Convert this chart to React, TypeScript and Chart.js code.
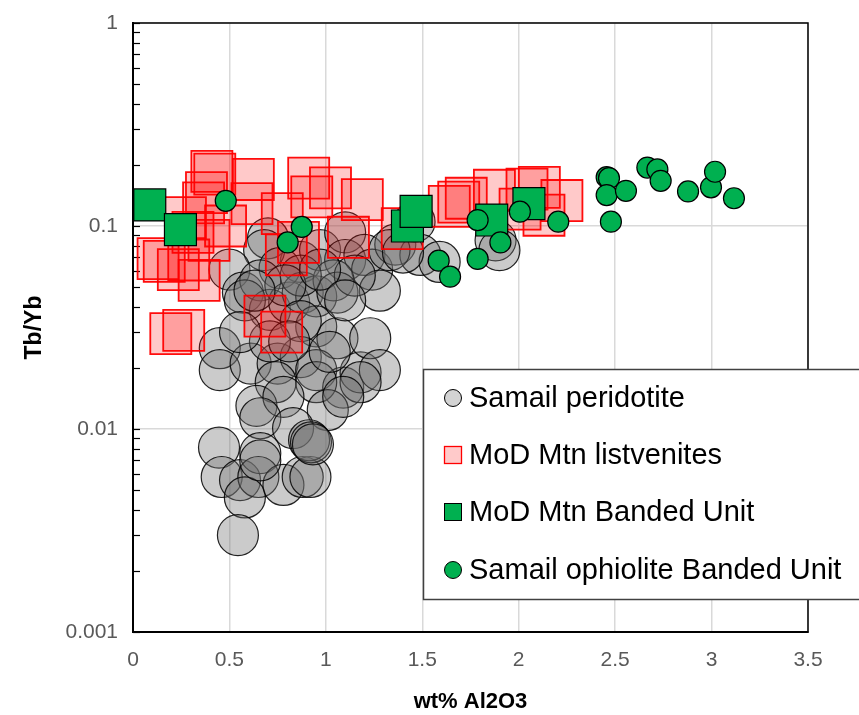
import React, { useEffect, useRef } from 'react';
import { Chart, registerables } from 'chart.js';

Chart.register(...registerables);

const FONT = '"Liberation Sans", Arial, Helvetica, sans-serif';

// ---- Data (wt% Al2O3 vs Tb/Yb) ----
const seriesNames = [
  'Samail peridotite',
  'MoD Mtn listvenites',
  'MoD Mtn Banded Unit',
  'Samail ophiolite Banded Unit',
];

const peridotiteX = [
  0.70, 0.87, 0.97, 1.10, 1.10, 1.20, 1.24, 1.36, 1.46, 1.49, 1.59, 1.88, 1.90, 0.68, 0.76, 1.33, 1.40,
  0.50, 0.57, 0.66, 0.71, 0.81, 0.88, 0.95, 1.04, 1.06, 0.95, 1.06, 1.28, 1.15, 0.87, 0.58, 0.79, 0.63, 0.97, 1.10, 0.87,
  0.45, 0.45, 0.61, 0.75, 0.87, 0.95, 1.09, 1.18, 1.23, 1.28, 0.74, 0.95, 1.18, 0.64, 0.78, 1.01, 1.09, 0.66, 0.83, 0.71, 0.81, 0.555, 1.02,
  0.446, 0.46, 0.555, 0.66, 0.65, 0.58, 0.544, 0.78, 0.88, 0.92, 0.913, 0.923, 0.933, 0.66,
];
const peridotiteY = [
  0.087, 0.0665, 0.076, 0.093, 0.068, 0.072, 0.061, 0.081, 0.105, 0.072, 0.0665, 0.085, 0.076, 0.076, 0.062, 0.076, 0.074,
  0.061, 0.047, 0.054, 0.0386, 0.042, 0.047, 0.045, 0.054, 0.047, 0.032, 0.028, 0.048, 0.057, 0.057, 0.043, 0.051, 0.048, 0.061, 0.043, 0.034,
  0.025, 0.0195, 0.021, 0.021, 0.0226, 0.0195, 0.016, 0.019, 0.028, 0.0195, 0.017, 0.017, 0.017, 0.013, 0.0144, 0.0124, 0.0144, 0.0113, 0.0101, 0.027, 0.027, 0.030, 0.024,
  0.0081, 0.0058, 0.0056, 0.0076, 0.0058, 0.0046, 0.0030, 0.0053, 0.0058, 0.0058, 0.0088, 0.0086, 0.0084, 0.0070,
];

const listveniteX = [
  0.409, 0.424, 0.624, 0.381, 0.366, 0.617, 0.774, 0.480, 0.272, 0.911, 1.024, 0.927, 1.189, 1.117, 1.396, 0.795, 0.858,
  1.640, 1.689, 1.728, 1.874, 2.043, 2.107, 2.007, 2.224, 2.131, 0.130, 0.162, 0.235, 0.289, 0.343, 0.196, 0.263, 0.684,
  0.771, 0.311, 0.394,
];
const listveniteY = [
  0.186, 0.180, 0.1695, 0.146, 0.130, 0.129, 0.115, 0.100, 0.110, 0.172, 0.154, 0.139, 0.135, 0.088, 0.097, 0.072, 0.083,
  0.125, 0.131, 0.137, 0.150, 0.152, 0.155, 0.121, 0.1335, 0.113, 0.069, 0.067, 0.061, 0.068, 0.054, 0.0295, 0.0306, 0.036,
  0.030, 0.093, 0.085,
];

const modBandedX = [0.087, 0.246, 1.423, 1.468, 1.860, 2.053];
const modBandedY = [0.127, 0.096, 0.100, 0.118, 0.107, 0.129];

const samailBandedX = [
  0.481, 0.802, 0.875, 1.585, 1.644, 1.787, 1.787, 1.905, 2.006, 2.205, 2.456,
  2.468, 2.456, 2.478, 2.556, 2.667, 2.719, 2.736, 2.878, 2.997, 3.018, 3.116,
];
const samailBandedY = [
  0.133, 0.083, 0.099, 0.0675, 0.0563, 0.0688, 0.107, 0.083, 0.1176, 0.105, 0.174,
  0.172, 0.142, 0.105, 0.149, 0.194, 0.190, 0.167, 0.148, 0.155, 0.185, 0.137,
];

const xTickLabels = ['0', '0.5', '1', '1.5', '2', '2.5', '3', '3.5'];
const yTickLabels = ['0.001', '0.01', '0.1', '1'];
const xTitle = 'wt% Al2O3';
const yTitle = 'Tb/Yb';

const toPts = (xs: number[], ys: number[]) => xs.map((x, i) => ({ x, y: ys[i] }));

const GREEN = '#00b050';

const decorPlugin = {
  id: 'decor',
  beforeDatasetsDraw(chart: any) {
    const { ctx, chartArea, scales } = chart;
    const y = scales.y;
    ctx.save();
    ctx.strokeStyle = '#000';
    ctx.lineWidth = 1.2;
    for (let e = -3; e <= 0; e++) {
      for (let m = 1; m <= 9; m++) {
        if (e === 0 && m > 1) break;
        const v = m * Math.pow(10, e);
        const py = Math.round(y.getPixelForValue(v)) + 0.5;
        ctx.beginPath();
        ctx.moveTo(chartArea.left, py);
        ctx.lineTo(chartArea.left + 7, py);
        ctx.stroke();
      }
    }
    ctx.restore();
  },
  afterDatasetsDraw(chart: any) {
    const { ctx, chartArea } = chart;
    ctx.save();
    ctx.strokeStyle = '#000';
    ctx.lineWidth = 1.5;
    ctx.strokeRect(chartArea.left, chartArea.top, chartArea.right - chartArea.left, chartArea.bottom - chartArea.top);
    ctx.restore();
  },
  afterDraw(chart: any) {
    const { ctx } = chart;
    ctx.save();
    const bx = 423.5, by = 369.5, bw = 445, bh = 230;
    ctx.fillStyle = '#fff';
    ctx.fillRect(bx, by, bw, bh);
    ctx.strokeStyle = '#404040';
    ctx.lineWidth = 1.5;
    ctx.strokeRect(bx, by, bw, bh);
    const rows = [398, 455, 512, 570];
    const mx = 453;
    const tx = 469;
    ctx.font = `29px ${FONT}`;
    ctx.textBaseline = 'middle';
    ctx.textAlign = 'left';
    rows.forEach((ry, i) => {
      ctx.lineWidth = 1;
      if (i === 0) {
        ctx.beginPath();
        ctx.arc(mx, ry, 8.5, 0, Math.PI * 2);
        ctx.fillStyle = '#d3d3d3';
        ctx.fill();
        ctx.strokeStyle = '#000';
        ctx.stroke();
      } else if (i === 1) {
        ctx.fillStyle = '#ffcaca';
        ctx.fillRect(mx - 8.5, ry - 8.5, 17, 17);
        ctx.strokeStyle = '#ff0000';
        ctx.lineWidth = 1.3;
        ctx.strokeRect(mx - 8.5, ry - 8.5, 17, 17);
      } else if (i === 2) {
        ctx.fillStyle = GREEN;
        ctx.fillRect(mx - 8.5, ry - 8.5, 17, 17);
        ctx.strokeStyle = '#000';
        ctx.strokeRect(mx - 8.5, ry - 8.5, 17, 17);
      } else {
        ctx.beginPath();
        ctx.arc(mx, ry, 8.5, 0, Math.PI * 2);
        ctx.fillStyle = GREEN;
        ctx.fill();
        ctx.strokeStyle = '#000';
        ctx.stroke();
      }
      ctx.fillStyle = '#000';
      ctx.fillText(seriesNames[i], tx, ry + 1);
    });
    ctx.restore();
  },
};

export default function App() {
  const ref = useRef<HTMLCanvasElement | null>(null);

  useEffect(() => {
    if (!ref.current) return;
    const chart = new Chart(ref.current, {
      type: 'scatter',
      data: {
        datasets: [
          {
            label: seriesNames[0],
            data: toPts(peridotiteX, peridotiteY),
            pointStyle: 'circle',
            pointRadius: 20.5,
            backgroundColor: 'rgba(110,110,110,0.36)',
            borderColor: 'rgba(0,0,0,0.85)',
            borderWidth: 1.2,
            order: 4,
          },
          {
            label: seriesNames[1],
            data: toPts(listveniteX, listveniteY),
            pointStyle: 'rect',
            pointRadius: 29,
            backgroundColor: 'rgba(255,0,0,0.21)',
            borderColor: 'rgba(255,0,0,0.95)',
            borderWidth: 1.8,
            order: 3,
          },
          {
            label: seriesNames[2],
            data: toPts(modBandedX, modBandedY),
            pointStyle: 'rect',
            pointRadius: 22.6,
            backgroundColor: GREEN,
            borderColor: '#000',
            borderWidth: 1.2,
            order: 2,
          },
          {
            label: seriesNames[3],
            data: toPts(samailBandedX, samailBandedY),
            pointStyle: 'circle',
            pointRadius: 10.5,
            backgroundColor: GREEN,
            borderColor: '#000',
            borderWidth: 1.2,
            order: 1,
          },
        ],
      },
      options: {
        responsive: false,
        animation: false,
        events: [],
        layout: { autoPadding: false, padding: { top: 23, right: 51, bottom: 0, left: 0 } },
        plugins: {
          legend: { display: false },
          tooltip: { enabled: false },
        },
        scales: {
          x: {
            type: 'linear',
            min: 0,
            max: 3.5,
            ticks: {
              stepSize: 0.5,
              color: '#595959',
              font: { family: FONT, size: 21 },
              padding: 16,
              maxRotation: 0,
              callback: (v: any) => {
                const i = Math.round(Number(v) * 2);
                return xTickLabels[i] ?? '';
              },
            },
            grid: { color: '#d9d9d9', lineWidth: 1.5, drawTicks: false },
            border: { color: '#000', width: 2 },
            title: {
              display: true,
              text: xTitle,
              color: '#000',
              font: { family: FONT, size: 22, weight: 'bold' },
              padding: { top: 0, bottom: 0 },
            },
            afterFit: (s: any) => {
              s.height = 83;
              s.paddingLeft = 0;
              s.paddingRight = 0;
              s.paddingTop = 0;
              s.paddingBottom = 0;
            },
          },
          y: {
            type: 'logarithmic',
            min: 0.001,
            max: 1,
            ticks: {
              color: '#595959',
              font: { family: FONT, size: 21 },
              padding: 15,
              autoSkip: false,
              callback: (v: any) => {
                const l = Math.log10(Number(v));
                const r = Math.round(l);
                if (Math.abs(l - r) < 1e-6) return yTickLabels[r + 3];
                return '';
              },
            },
            grid: {
              drawTicks: false,
              lineWidth: 1.5,
              color: (c: any) => {
                const v = c.tick ? c.tick.value : 0;
                const l = Math.log10(v);
                return Math.abs(l - Math.round(l)) < 1e-6 ? '#d9d9d9' : 'rgba(0,0,0,0)';
              },
            },
            border: { color: '#000', width: 2 },
            title: {
              display: true,
              text: yTitle,
              color: '#000',
              font: { family: FONT, size: 23, weight: 'bold' },
              padding: { top: 21, bottom: 0 },
            },
            afterFit: (s: any) => {
              s.width = 133;
              s.paddingLeft = 0;
              s.paddingRight = 0;
              s.paddingTop = 0;
              s.paddingBottom = 0;
            },
          },
        },
      },
      plugins: [decorPlugin],
    } as any);
    return () => chart.destroy();
  }, []);

  return (
    <div style={{ position: 'absolute', left: 0, top: 0, width: 859, height: 715, background: '#fff' }}>
      <canvas ref={ref} width={859} height={715} style={{ display: 'block' }} />
    </div>
  );
}
